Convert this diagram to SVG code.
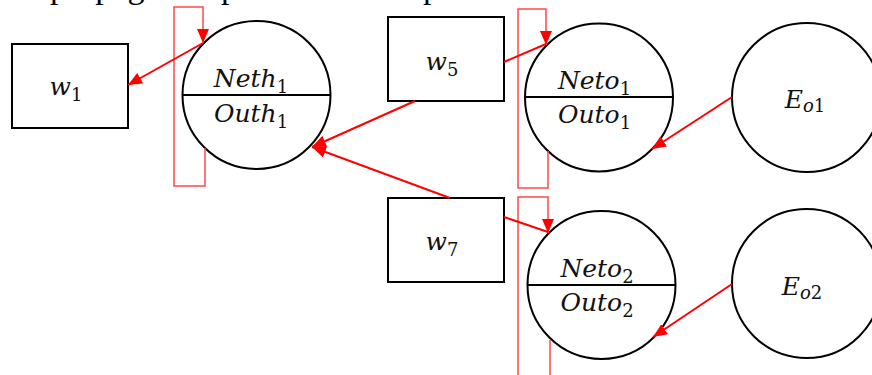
<svg xmlns="http://www.w3.org/2000/svg" width="872" height="375" viewBox="0 0 872 375">
  <style>
    .box { fill: #ffffff; stroke: #000000; stroke-width: 2; }
    .node { fill: #ffffff; stroke: #000000; stroke-width: 2; }
    .split { stroke: #000000; stroke-width: 2; }
    .math { font-family: "DejaVu Serif", "Liberation Serif", serif; font-style: italic; font-size: 25px; fill: #111111; text-anchor: middle; }
    .sub { font-style: normal; font-size: 18px; }
    .isub { font-size: 18px; }
    .edge { fill: none; stroke: #ff0000; stroke-width: 2; }
    .loop { fill: none; stroke: #ff4848; stroke-width: 1.5; }
    .caption { font-family: "Liberation Serif", "Times New Roman", serif; font-size: 34px; fill: #000000; }
  </style>
  <defs>
    <marker id="arrow" markerUnits="userSpaceOnUse" markerWidth="15" markerHeight="12" refX="14" refY="6" orient="auto">
      <path d="M0,0 L14,6 L0,12 z" fill="#ff0000"/>
    </marker>
  </defs>

  <!-- heading line, cut by the top edge -->
  <text class="caption" x="50" y="-2">propagation process for output</text>

  <!-- weight boxes -->
  <g id="w1">
    <rect class="box" x="12" y="44" width="116" height="84"/>
    <text class="math" x="66" y="95">w<tspan class="sub" dy="6">1</tspan></text>
  </g>
  <g id="w5">
    <rect class="box" x="388" y="17" width="116" height="84"/>
    <text class="math" x="442" y="70">w<tspan class="sub" dy="6">5</tspan></text>
  </g>
  <g id="w7">
    <rect class="box" x="388" y="198" width="116" height="84"/>
    <text class="math" x="442" y="250">w<tspan class="sub" dy="6">7</tspan></text>
  </g>

  <!-- neurons split into net input / output -->
  <g id="h1">
    <circle class="node" cx="256.5" cy="95" r="74"/>
    <line class="split" x1="182.5" y1="95" x2="330.5" y2="95"/>
    <text class="math" x="251" y="87">Neth<tspan class="sub" dy="6">1</tspan></text>
    <text class="math" x="251" y="122">Outh<tspan class="sub" dy="6">1</tspan></text>
  </g>
  <g id="o1">
    <circle class="node" cx="599" cy="97.5" r="74"/>
    <line class="split" x1="525" y1="97" x2="673" y2="97"/>
    <text class="math" x="594.5" y="89">Neto<tspan class="sub" dy="6">1</tspan></text>
    <text class="math" x="594.5" y="123">Outo<tspan class="sub" dy="6">1</tspan></text>
  </g>
  <g id="o2">
    <circle class="node" cx="601.5" cy="285" r="74"/>
    <line class="split" x1="527.5" y1="285" x2="675.5" y2="285"/>
    <text class="math" x="597" y="277">Neto<tspan class="sub" dy="6">2</tspan></text>
    <text class="math" x="597" y="311">Outo<tspan class="sub" dy="6">2</tspan></text>
  </g>

  <!-- error terms -->
  <g id="Eo1">
    <circle class="node" cx="806.5" cy="97.5" r="74.5"/>
    <text class="math" x="805" y="108">E<tspan class="isub" dy="4">o</tspan><tspan class="sub">1</tspan></text>
  </g>
  <g id="Eo2">
    <circle class="node" cx="806.5" cy="283.5" r="74.5"/>
    <text class="math" x="802" y="295">E<tspan class="isub" dy="4">o</tspan><tspan class="sub">2</tspan></text>
  </g>

  <!-- connectors -->
  <g id="connectors">
    <path class="loop" d="M205,148 V186 H174 V7 H203 V43" marker-end="url(#arrow)"/>
    <path class="loop" d="M548,151 V188 H518 V9 H546 V45" marker-end="url(#arrow)"/>
    <path class="loop" d="M550,340 V380 M518,380 V197 H548 V233" marker-end="url(#arrow)"/>
    <line class="edge" x1="203" y1="43" x2="128" y2="85" marker-end="url(#arrow)"/>
    <line class="edge" x1="504" y1="62" x2="546" y2="44"/>
    <line class="edge" x1="504" y1="217" x2="548" y2="232"/>
    <line class="edge" x1="415" y1="101" x2="312" y2="147" marker-end="url(#arrow)"/>
    <line class="edge" x1="450" y1="198" x2="312" y2="147" marker-end="url(#arrow)"/>
    <line class="edge" x1="732" y1="97" x2="652" y2="149" marker-end="url(#arrow)"/>
    <line class="edge" x1="732" y1="284" x2="653" y2="337" marker-end="url(#arrow)"/>
  </g>
</svg>
